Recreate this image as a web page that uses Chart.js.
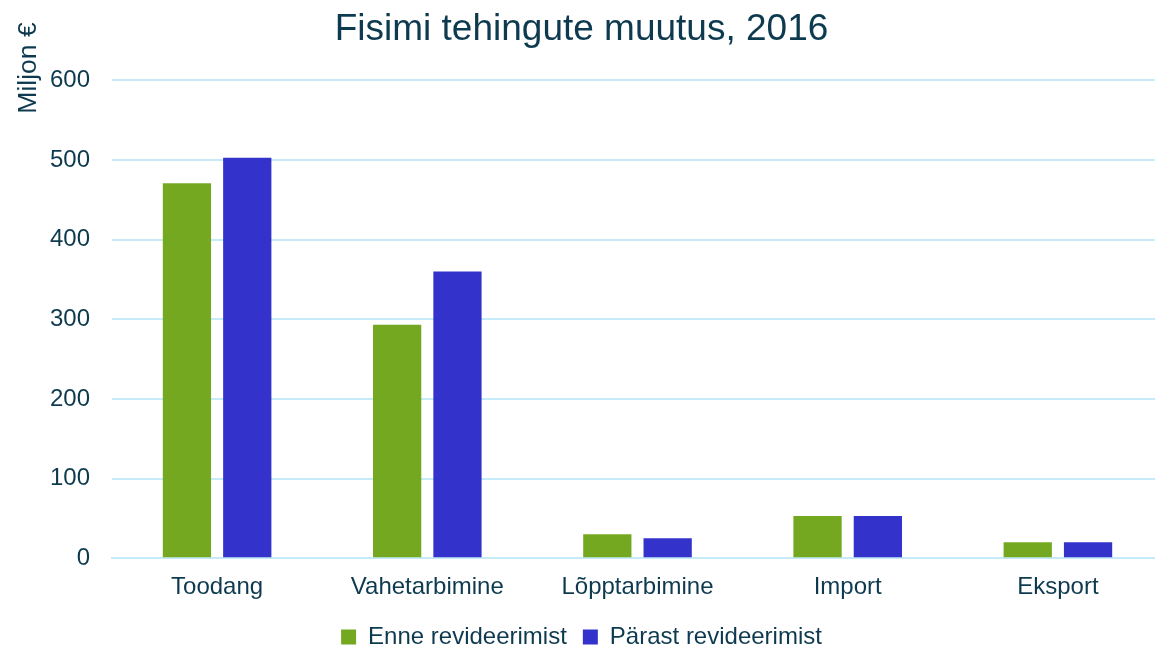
<!DOCTYPE html>
<html>
<head>
<meta charset="utf-8">
<script src="https://cdn.jsdelivr.net/npm/chart.js@4/dist/chart.umd.min.js"></script>
<style>
  body { margin: 0; overflow: hidden; background: #fff; }
  #wrap { width: 1163px; height: 659px; position: relative; }
</style>
</head>
<body>
<div id="wrap"><canvas id="chart"></canvas></div>
<script>
// data
const categories = ['Toodang', 'Vahetarbimine', 'Lõpptarbimine', 'Import', 'Eksport'];
const before = [471, 293, 30, 53, 20];
const after = [503, 360, 25, 53, 20];
const seriesNames = ['Enne revideerimist', 'Pärast revideerimist'];

const textColor = '#0E3A4F';
const font = 'Liberation Sans, Arial, sans-serif';

// y axis title sits at the top left, rotated
const yTitle = {
  id: 'yTitle',
  afterDraw(chart) {
    const ctx = chart.ctx;
    ctx.save();
    ctx.translate(29, 68);
    ctx.rotate(-Math.PI / 2);
    ctx.fillStyle = textColor;
    ctx.font = '26.5px ' + font;
    ctx.textAlign = 'center';
    ctx.textBaseline = 'middle';
    ctx.fillText('Miljon €', 0, 0);
    ctx.restore();
  }
};

new Chart(document.getElementById('chart'), {
  type: 'bar',
  data: {
    labels: categories,
    datasets: [
      { label: seriesNames[0], data: before, backgroundColor: '#74A820' },
      { label: seriesNames[1], data: after, backgroundColor: '#3333CC' }
    ]
  },
  options: {
    responsive: true,
    maintainAspectRatio: false,
    animation: false,
    categoryPercentage: 0.574,
    barPercentage: 0.8,
    layout: { padding: { top: 0, bottom: 0, left: 0, right: 0 } },
    plugins: {
      title: {
        display: true,
        text: 'Fisimi tehingute muutus, 2016',
        color: textColor,
        font: { family: font, size: 37, weight: 'normal' },
        padding: { top: 8, bottom: 28 }
      },
      legend: {
        position: 'bottom',
        labels: {
          color: textColor,
          font: { family: font, size: 24 },
          boxWidth: 15,
          boxHeight: 15,
          padding: 16
        }
      },
      tooltip: { enabled: false }
    },
    scales: {
      x: {
        grid: { display: false },
        border: { color: '#C5EBF8', width: 2 },
        ticks: { color: textColor, font: { family: font, size: 24 }, padding: 7 }
      },
      y: {
        min: 0,
        max: 600,
        afterFit(scale) { scale.width = 112; },
        ticks: { stepSize: 100, color: textColor, font: { family: font, size: 24 }, padding: 22 },
        grid: { color: '#C5EBF8', lineWidth: 2, drawTicks: false },
        border: { display: false }
      }
    }
  },
  plugins: [yTitle]
});
</script>
</body>
</html>
